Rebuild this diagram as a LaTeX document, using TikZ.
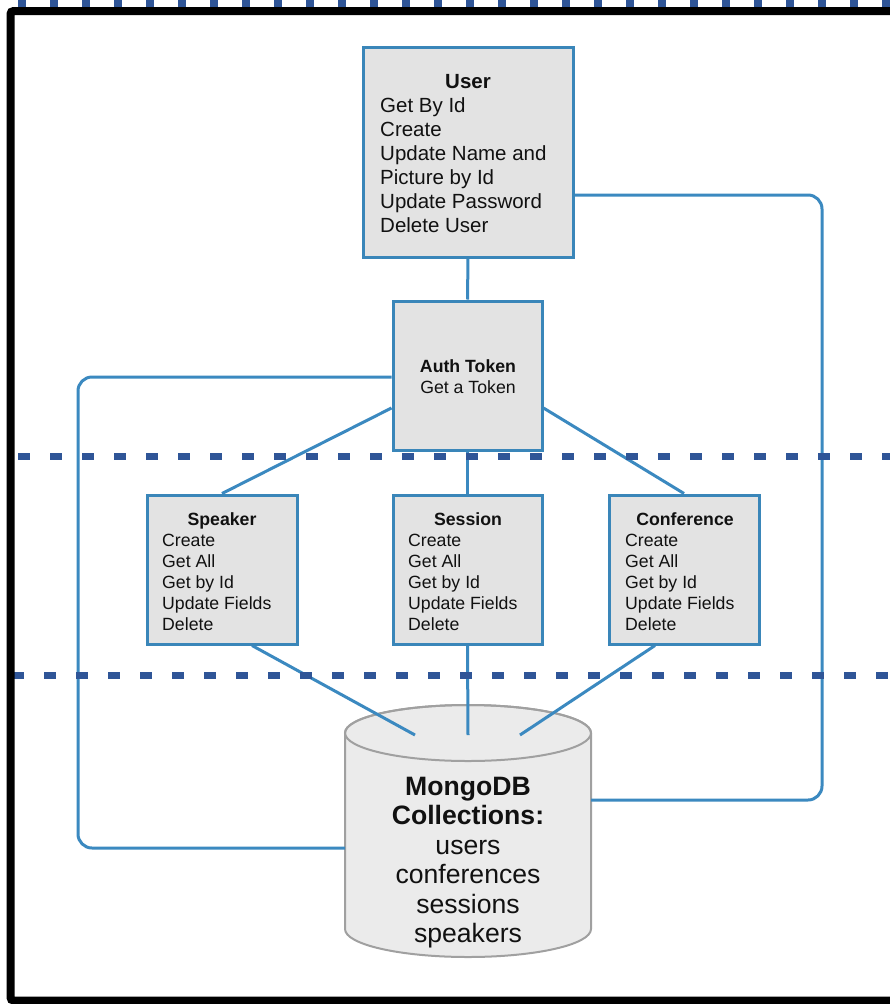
\documentclass[tikz,border=0pt]{standalone}
\usepackage{fontspec}
\setmainfont{Liberation Sans}
\usetikzlibrary{backgrounds}
\definecolor{boxblue}{HTML}{3A86B9}
\definecolor{connblue}{HTML}{3B89C0}
\definecolor{sepblue}{HTML}{2F5597}
\definecolor{boxfill}{HTML}{E3E3E3}
\definecolor{dbfill}{HTML}{EBEBEB}
\definecolor{dbline}{HTML}{A0A0A0}
\definecolor{ink}{HTML}{111111}
\begin{document}
\begin{tikzpicture}[x=1pt,y=-1pt,
  box/.style={draw=boxblue, line width=3pt, fill=boxfill, inner sep=0pt},
  conn/.style={draw=connblue, line width=3pt},
  sepline/.style={draw=sepblue, line width=7pt, dash pattern=on 12pt off 20pt},
  ttl/.style={font=\fontsize{17.7}{21}\selectfont\bfseries, inner sep=0pt, anchor=base, text=ink},
  bodytxt/.style={font=\fontsize{17.7}{21}\selectfont, inner sep=0pt, anchor=base west, text=ink},
]
\useasboundingbox (0,0) rectangle (890,1004);

% boxes
\node[box, minimum width=210pt, minimum height=210pt] (user) at (468,152) {};
\node[box, minimum width=149pt, minimum height=149pt] (auth) at (467.5,375.5) {};
\node[box, minimum width=150pt, minimum height=149pt] (spk) at (222,569.5) {};
\node[box, minimum width=149pt, minimum height=149pt] (sess) at (467.5,569.5) {};
\node[box, minimum width=150pt, minimum height=149pt] (conf) at (684,569.5) {};

% database cylinder anchors
\coordinate (dbS) at (415,735);
\coordinate (dbM) at (468,735);
\coordinate (dbC) at (520,735);
\coordinate (dbL) at (345,848);
\coordinate (dbR) at (591,800);

\begin{scope}[on background layer]
\fill[white] (0,0) rectangle (890,1004);
% database cylinder
\path[fill=dbfill, draw=dbline, line width=2pt]
  (345,733) -- (345,929) arc[start angle=180, end angle=360, x radius=123pt, y radius=28pt]
  -- (591,733) arc[start angle=0, end angle=180, x radius=123pt, y radius=28pt] -- cycle;
\draw[dbline, line width=2pt] (468,733) ellipse [x radius=123pt, y radius=28pt];
% connectors
\draw[conn] (user.south) -- (auth.north);
\draw[conn] ([yshift=-32.5pt]auth.west) -- (spk.north);
\draw[conn] (auth.south) -- (sess.north);
\draw[conn] ([yshift=-32.5pt]auth.east) -- (conf.north);
\draw[conn] ([xshift=30pt]spk.south) -- (dbS);
\draw[conn] (sess.south) -- (dbM);
\draw[conn] ([xshift=-29pt]conf.south) -- (dbC);
\draw[conn, rounded corners=14pt] ([yshift=-1.5pt]auth.west) -| (78,848) -- (dbL);
\draw[conn, rounded corners=14pt] ([yshift=-43pt]user.east) -| (822,800) -- (dbR);
\end{scope}

\node[anchor=base, inner sep=0pt, font=\fontsize{26.6}{29.5}\selectfont, text=ink] (db) at (468,795)
  {\begin{tabular}[t]{@{}c@{}}\textbf{MongoDB}\\\textbf{Collections:}\\users\\conferences\\sessions\\speakers\end{tabular}};

% texts
\node[ttl, font=\fontsize{20.5}{24}\selectfont\bfseries] (userT) at (468,88) {User};
\node[bodytxt, font=\fontsize{20.5}{24}\selectfont] (userB) at (380,112)
  {\begin{tabular}[t]{@{}l@{}}Get By Id\\Create\\Update Name and\\Picture by Id\\Update Password\\Delete User\end{tabular}};
\node[ttl] (authT) at (468,372) {Auth Token};
\node[ttl, font=\fontsize{17.7}{21}\selectfont] (authB) at (468,393) {Get a Token};
\node[ttl] (spkT) at (222,525) {Speaker};
\node[bodytxt] (spkB) at (162,546)
  {\begin{tabular}[t]{@{}l@{}}Create\\Get All\\Get by Id\\Update Fields\\Delete\end{tabular}};
\node[ttl] (sessT) at (468,525) {Session};
\node[bodytxt] (sessB) at (408,546)
  {\begin{tabular}[t]{@{}l@{}}Create\\Get All\\Get by Id\\Update Fields\\Delete\end{tabular}};
\node[ttl] (confT) at (685,525) {Conference};
\node[bodytxt] (confB) at (625,546)
  {\begin{tabular}[t]{@{}l@{}}Create\\Get All\\Get by Id\\Update Fields\\Delete\end{tabular}};

% dashed separators
\draw[sepline, dash pattern=on 8pt off 24pt] (18,3.5) -- (900,3.5);
\draw[sepline] (18,456) -- (900,456);
\draw[sepline] (12,675) -- (900,675);

% outer frame
\draw[black, line width=8pt, rounded corners=3pt] (900,11) -- (10.5,11) -- (10.5,1000.5) -- (900,1000.5);
\end{tikzpicture}
\end{document}
